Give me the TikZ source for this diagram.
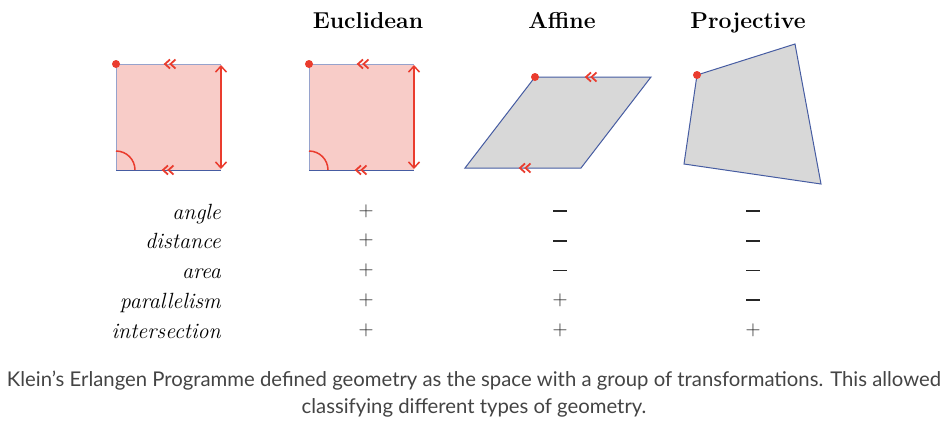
\documentclass[tikz,border=0pt]{standalone}
\usepackage{fontspec}
\newfontfamily\capfont{Lato}
\definecolor{klred}{RGB}{234,60,46}
\definecolor{klpink}{RGB}{248,204,200}
\definecolor{klblue}{RGB}{70,92,162}
\definecolor{kledge}{RGB}{150,162,204}
\definecolor{klgrey}{RGB}{216,216,216}
\definecolor{kltext}{RGB}{68,68,68}
\usetikzlibrary{arrows.meta}
\newcommand\pls{$+$}
\newcommand\mns{\rule{14pt}{1.7pt}}

\tikzset{
  header/.style={font=\fontsize{23}{26}\selectfont\bfseries, anchor=base},
  rowlabel/.style={font=\fontsize{22}{24}\selectfont\itshape, anchor=base east, inner sep=0pt},
  sign/.style={font=\fontsize{20}{22}\selectfont, text=black!85, inner sep=0pt},
  caption/.style={font=\fontsize{20.3}{22}\selectfont\capfont, text=kltext, anchor=base},
  marker/.style={draw=klred, line width=1.5pt},
  biarrow/.style={marker, {Straight Barb[length=6pt,width=11pt]}-{Straight Barb[length=6pt,width=11pt]}},
  chev/.pic={\draw[klred, line width=1.8pt] (5,-4.5) -- (0,0) -- (5,4.5) (10.5,-4.5) -- (5.5,0) -- (10.5,4.5);}
}

\begin{document}
\begin{tikzpicture}[x=1pt, y=-1pt]
  \useasboundingbox[fill=white] (0,0) rectangle (952,421);
  % Headers
  \node[header] (euclid) at (368,28) {Euclidean};
  \node[header] (affine) at (562,28) {Affine};
  \node[header] (proj) at (748,28) {Projective};
  % Squares
  \foreach \x in {116,309} {
    \fill[klpink] (\x,64) rectangle ++(105,106);
    \draw[kledge, line width=1pt] (\x,170) -- (\x,64) -- ++(105,0);
    \draw[klblue, line width=1pt] (\x,170) -- ++(105,0);
    \draw[biarrow] (\x+105,65) -- (\x+105,169);
    \draw[marker] (\x,151) arc[start angle=-90, end angle=0, radius=19];
    \pic at (\x+49,64) {chev};
    \pic at (\x+47,170) {chev};
    \fill[klred] (\x,64) circle[radius=4];
  }
  % Parallelogram
  \filldraw[fill=klgrey, draw=klblue, line width=1pt] (535,77) -- (651,77) -- (581,168) -- (465,168) -- cycle;
  \pic at (586,77) {chev};
  \pic at (520,168) {chev};
  \fill[klred] (535,77) circle[radius=4];
  % Quadrilateral
  \filldraw[fill=klgrey, draw=klblue, line width=1pt] (697,75) -- (795,44) -- (821,184) -- (684,164) -- cycle;
  \fill[klred] (697,75) circle[radius=4];
  % Table
  \foreach \lbl/\e/\a/\p [count=\i] in {angle/\pls/\mns/\mns, distance/\pls/\mns/\mns, area/\pls/\mns/\mns, parallelism/\pls/\pls/\mns, intersection/\pls/\pls/\pls} {
    \node[rowlabel] (row\i) at (221,219+29.75*\i-29.75) {\lbl};
    \node[sign] (e\i) at (366,211+29.75*\i-29.75) {\e};
    \node[sign] (a\i) at (560,211+29.75*\i-29.75) {\a};
    \node[sign] (p\i) at (753,211+29.75*\i-29.75) {\p};
  }
  % Caption
  \node[caption] (cap1) at (474,386) {Klein’s Erlangen Programme defined geometry as the space with a group of transformations. This allowed};
  \node[caption] (cap2) at (474,413) {classifying different types of geometry.};
\end{tikzpicture}
\end{document}
